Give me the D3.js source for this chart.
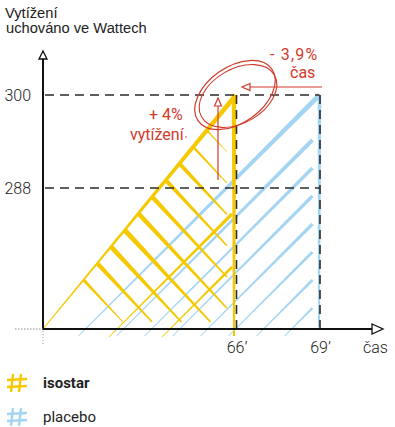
<!DOCTYPE html>
<html><head><meta charset="utf-8">
<script src="https://cdn.jsdelivr.net/npm/d3@7"></script>
<style>body{margin:0;background:#fff} svg{display:block}</style>
</head><body><svg id="c" width="395" height="427"></svg>
<script>
// ---- data ----
const series = ["isostar", "placebo"];
const timeMinutes = [66, 69];          // time to exhaustion
const loadWatt = [300, 300];           // load kept (W)
const yTickValues = [288, 300];
const yTickLabels = ["288", "300"];
const xTickValues = [66, 69];
const xTickLabels = ["66’", "69’"];
const yTitle = ["Vytížení", "uchováno ve Wattech"];
const xTitle = "čas";
const annoLoad = ["+ 4%", "vytížení"];
const annoTime = ["- 3,9%", "čas"];
const colors = ["#f5c800", "#a3d5f3"];
const red = "#d23a2c";

const svg = d3.select("#c");
const x = d3.scaleLinear().domain([0, d3.min(timeMinutes), d3.max(timeMinutes)]).range([43, 236, 319.5]);
const y = d3.scaleLinear().domain([0, yTickValues[0], yTickValues[1]]).range([329, 188, 95]);
const lightFont = "Roboto, 'Noto Sans', sans-serif";

function taper(g, x0, y0, w0, x1, y1, w1, color) {
  const dx = x1 - x0, dy = y1 - y0, L = Math.hypot(dx, dy), nx = -dy / L, ny = dx / L;
  const pts = [[x0 + nx * w0 / 2, y0 + ny * w0 / 2], [x1 + nx * w1 / 2, y1 + ny * w1 / 2],
               [x1 - nx * w1 / 2, y1 - ny * w1 / 2], [x0 - nx * w0 / 2, y0 - ny * w0 / 2]];
  g.append("polygon").attr("points", pts.map(p => p.join(",")).join(" ")).attr("fill", color);
}

const X0 = x(0), Y0 = y(0), bottom = 336;
// ---- placebo (blue) hatch ----
const gb = svg.append("g");
{
  const ax = x(timeMinutes[1]), ay = y(loadWatt[1]);
  const c0 = ax + ay;
  taper(gb, c0 - bottom, bottom, 1, ax, ay, 5, colors[1]);
  const tw = [4, 3.6, 3.4, 3.3, 3, 2.8, 2.4];
  tw.forEach((w, k) => {
    const c = c0 + 10 + 28 * (k + 1);
    const xr = ax - 7;
    taper(gb, c - bottom, bottom, 0.8, xr, c - xr, w, colors[1]);
  });
  taper(gb, ax, ay, 3.5, ax - 0.5, Y0 - 2, 2, colors[1]);
}
// ---- isostar (yellow) hatch ----
const gy = svg.append("g");
{
  const ax = x(timeMinutes[0]), ay = y(loadWatt[0]);
  [446, 499].forEach((c, i) => {
    const xr = ax - 4;
    taper(gy, c - 337, 337, 0.8, xr, c - xr, i === 0 ? 3.2 : 2.6, colors[0]);
  });
  const ws = [3, 4.5, 5, 5, 4.6, 4.5, 4.2, 4.2, 2.6, 1.6];
  ws.forEach((w, i) => {
    const t = 0.21 + 0.071 * i;
    const px = X0 + t * (ax - X0), py = Y0 + t * (ay - Y0);
    const sl = 1.07;
    const s = Math.min(ax - 9 - px, (322 - py) / sl);
    taper(gy, px, py, w, px + s, py + sl * s, w * 0.35, colors[0]);
  });
  taper(gy, X0, Y0, 1, ax, ay, 5, colors[0]);
  taper(gy, ax - 2, ay, 4.5, ax - 2, bottom, 2, colors[0]);
}

// ---- dashed guides ----
const gd = svg.append("g").attr("stroke", "#2b2b2b").attr("stroke-width", 1.6).attr("stroke-dasharray", "9,6").attr("fill", "none");
yTickValues.forEach(v => gd.append("line").attr("x1", X0 + 2).attr("x2", x(timeMinutes[1])).attr("y1", y(v)).attr("y2", y(v)));
xTickValues.forEach(v => gd.append("line").attr("x1", x(v) + 0.5).attr("x2", x(v) + 0.5).attr("y1", y(loadWatt[0])).attr("y2", Y0));

// ---- axes ----
const ga = svg.append("g");
ga.append("line").attr("x1", X0).attr("x2", X0).attr("y1", 59).attr("y2", Y0 + 1).attr("stroke", "#111").attr("stroke-width", 2);
ga.append("line").attr("x1", X0).attr("x2", X0).attr("y1", Y0 + 2).attr("y2", 346).attr("stroke", "#999").attr("stroke-width", 1).attr("stroke-dasharray", "1,2");
ga.append("path").attr("d", `M${X0 - 4},59 L${X0},51 L${X0 + 4},59 Z`).attr("fill", "#fff").attr("stroke", "#111").attr("stroke-width", 1.3);
ga.append("line").attr("x1", X0).attr("x2", 372).attr("y1", Y0).attr("y2", Y0).attr("stroke", "#111").attr("stroke-width", 2.2);
ga.append("line").attr("x1", 15).attr("x2", X0).attr("y1", Y0).attr("y2", Y0).attr("stroke", "#888").attr("stroke-width", 1).attr("stroke-dasharray", "1.5,1.5");
ga.append("path").attr("d", `M372,${Y0 - 5} L383,${Y0} L372,${Y0 + 5} Z`).attr("fill", "#fff").attr("stroke", "#111").attr("stroke-width", 1.3);

// tick labels
yTickValues.forEach((v, i) => svg.append("text").attr("x", 31).attr("y", y(v) + 6).attr("text-anchor", "end")
  .attr("font-family", lightFont).attr("font-weight", 300).attr("font-size", 16).attr("fill", "#222").text(yTickLabels[i]));
xTickValues.forEach((v, i) => svg.append("text").attr("x", x(v) + 1).attr("y", 353).attr("text-anchor", "middle")
  .attr("font-family", lightFont).attr("font-weight", 300).attr("font-size", 16).attr("fill", "#222").text(xTickLabels[i]));
svg.append("text").attr("x", 363).attr("y", 353).attr("font-family", lightFont).attr("font-weight", 300)
  .attr("font-size", 16).attr("fill", "#222").text(xTitle);

// y title
yTitle.forEach((t, i) => svg.append("text").attr("x", 5 + i).attr("y", 18 + 15 * i)
  .attr("font-family", "'Liberation Sans', Arial, sans-serif").attr("font-size", 14.7).attr("fill", "#222").text(t));

// ---- annotations ----
const gr = svg.append("g");
{
  const ax = x(timeMinutes[0]), ay = y(loadWatt[0]);
  gr.append("ellipse").attr("cx", ax - 1).attr("cy", ay).attr("rx", 45).attr("ry", 28)
    .attr("transform", `rotate(-35 ${ax - 1} ${ay})`).attr("fill", "none").attr("stroke", red).attr("stroke-width", 1.2);
  gr.append("ellipse").attr("cx", ax + 2).attr("cy", ay + 1).attr("rx", 42).attr("ry", 27)
    .attr("transform", `rotate(-30 ${ax + 2} ${ay + 1})`).attr("fill", "none").attr("stroke", red).attr("stroke-width", 1.1);
  gr.append("line").attr("x1", 322).attr("x2", 250).attr("y1", 87).attr("y2", 87).attr("stroke", red).attr("stroke-width", 1.2);
  gr.append("path").attr("d", "M250,83.5 L242,87 L250,90.5 Z").attr("fill", "#fff").attr("stroke", red).attr("stroke-width", 1.2);
  gr.append("line").attr("x1", 218).attr("x2", 218).attr("y1", 180).attr("y2", 106).attr("stroke", red).attr("stroke-width", 1.2);
  gr.append("path").attr("d", "M214.5,106 L218,98 L221.5,106 Z").attr("fill", "#fff").attr("stroke", red).attr("stroke-width", 1.2);
}
const at = [[annoTime[0], 270, 60, 1.2], [annoTime[1], 290, 78, 0], [annoLoad[0], 149, 120, 0], [annoLoad[1], 130, 140, 0]];
at.forEach(d => svg.append("text").attr("x", d[1]).attr("y", d[2]).attr("font-family", lightFont).attr("font-weight", 400)
  .attr("font-size", 16).attr("letter-spacing", d[3]).attr("fill", red).text(d[0]));
svg.append("circle").attr("cx", 186).attr("cy", 137).attr("r", 1).attr("fill", "#e88");

// ---- legend ----
series.forEach((s, i) => {
  const ly = 374 + 34 * i;
  const g = svg.append("g").attr("stroke", colors[i]).attr("stroke-width", 2.4).attr("fill", "none");
  g.append("line").attr("x1", 13).attr("y1", ly).attr("x2", 11).attr("y2", ly + 18);
  g.append("line").attr("x1", 21).attr("y1", ly).attr("x2", 19).attr("y2", ly + 18);
  g.append("line").attr("x1", 7).attr("y1", ly + 6).attr("x2", 27).attr("y2", ly + 5);
  g.append("line").attr("x1", 7).attr("y1", ly + 13).attr("x2", 27).attr("y2", ly + 12);
  svg.append("text").attr("x", 43).attr("y", ly + 14).attr("font-family", lightFont)
    .attr("font-weight", i === 0 ? 700 : 400).attr("font-size", 15).attr("fill", "#222").text(s);
});
</script></body></html>
